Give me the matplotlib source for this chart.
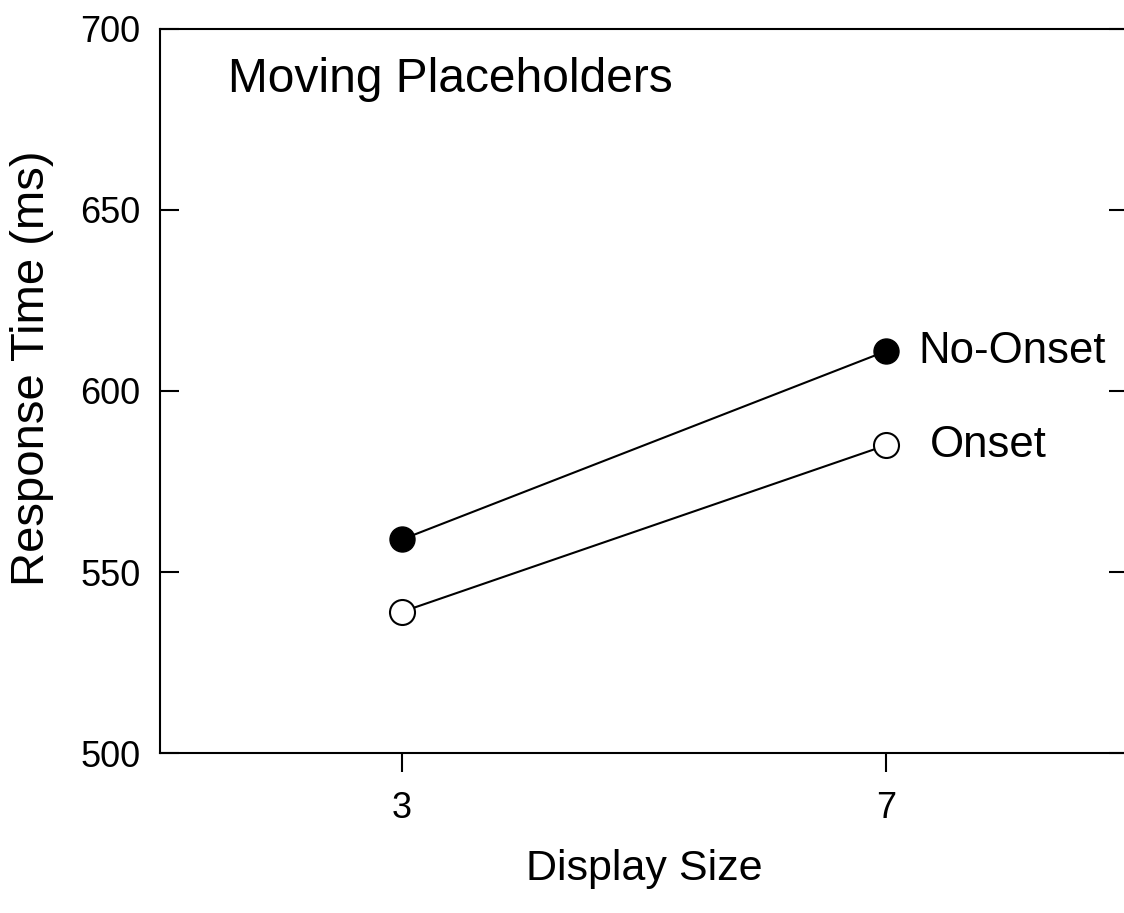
import matplotlib.pyplot as plt

plt.rcParams['font.family'] = ['Liberation Sans', 'DejaVu Sans']

# Data
display_size = [3, 7]
no_onset_rt = [559, 611]
onset_rt = [539, 585]
y_ticks = [500, 550, 600, 650, 700]

fig = plt.figure(figsize=(11.24, 9.13), dpi=100)
ax = fig.add_axes([160 / 1124, 160 / 913, 968 / 1124, 724 / 913])

ax.plot(display_size, no_onset_rt, color='black', lw=1.5, marker='o',
        markersize=18, markerfacecolor='black', markeredgecolor='black', zorder=3)
ax.plot(display_size, onset_rt, color='black', lw=1.5, marker='o',
        markersize=18, markerfacecolor='white', markeredgecolor='black',
        markeredgewidth=1.5, zorder=3)

ax.set_xlim(1, 9)
ax.set_ylim(500, 700)
ax.set_xticks(display_size)
ax.set_yticks(y_ticks)

ax.spines['right'].set_visible(False)
for s in ['left', 'bottom', 'top']:
    ax.spines[s].set_linewidth(1.5)

ax.tick_params(axis='x', direction='out', length=14, width=1.5, labelsize=26, pad=13)
ax.tick_params(axis='y', direction='in', length=14, width=1.5, labelsize=26, pad=14,
               right=True)

ax.set_xlabel('Display Size', fontsize=31, labelpad=17)
ax.set_ylabel('Response Time (ms)', fontsize=34)
ax.yaxis.set_label_coords(-0.110, 0.532)

ax.text(0.07, 0.93, 'Moving Placeholders', transform=ax.transAxes,
        fontsize=34.5, ha='left', va='center')
ax.text(7.27, no_onset_rt[1], 'No-Onset', fontsize=31.5, ha='left', va='center')
ax.text(7.36, onset_rt[1], 'Onset', fontsize=31.5, ha='left', va='center')

fig.savefig('out.png', dpi=100)
